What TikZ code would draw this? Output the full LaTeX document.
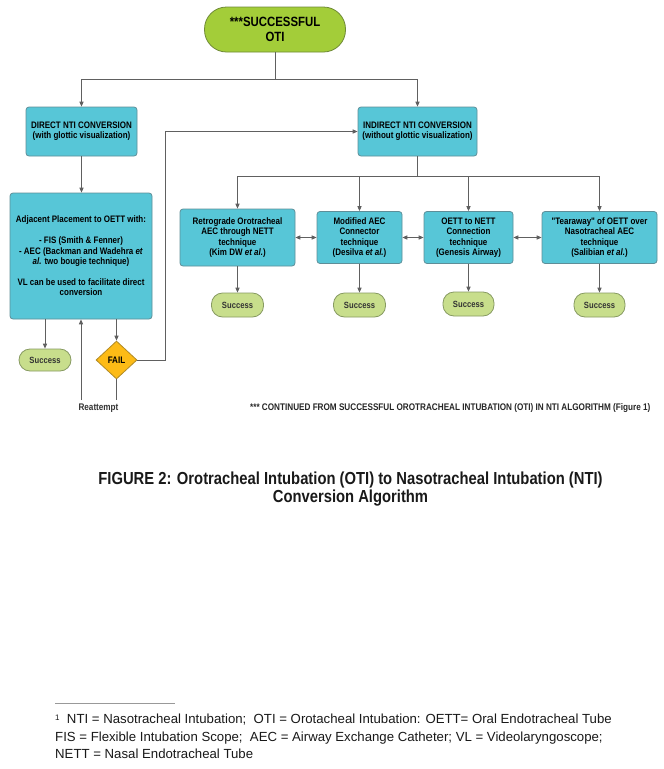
\documentclass[tikz,border=0pt]{standalone}
\usepackage{fontspec}
\setmainfont{Liberation Sans}
\newfontfamily\nb[FakeStretch=0.85]{Liberation Sans}
\usetikzlibrary{arrows.meta,shapes.geometric}
\definecolor{cyanbox}{HTML}{57C6D7}
\definecolor{cyanedge}{HTML}{5E8E98}
\definecolor{topgreen}{HTML}{A3CD39}
\definecolor{topedge}{HTML}{6F8A36}
\definecolor{pill}{HTML}{C8DE8C}
\definecolor{pilledge}{HTML}{879A62}
\definecolor{failfill}{HTML}{FDBB16}
\definecolor{failedge}{HTML}{B08A25}
\definecolor{wire}{HTML}{606060}
\tikzset{
  x=1pt,y=-1pt,
  boxstyle/.style={draw=cyanedge,line width=0.8pt,fill=cyanbox,rounded corners=3pt,
    align=center,inner sep=0pt,font=\nb\bfseries\fontsize{9.4}{10.4}\selectfont},
  pillstyle/.style={draw=pilledge,line width=0.8pt,fill=pill,rounded corners=11pt,
    align=center,inner sep=0pt,text=black!80,font=\nb\bfseries\fontsize{9}{10}\selectfont},
  wirestyle/.style={draw=wire,line width=0.9pt},
  arr/.style={wirestyle,-{Triangle[length=5pt,width=4.2pt]}},
  darr/.style={wirestyle,{Triangle[length=5pt,width=4.2pt]}-{Triangle[length=5pt,width=4.2pt]}},
}
\begin{document}
\begin{tikzpicture}
\useasboundingbox[fill=white] (0,0) rectangle (664,769);
% nodes
\node[draw=topedge,line width=0.8pt,fill=topgreen,rounded corners=22pt,align=center,inner sep=0pt,
  minimum width=141pt,minimum height=45pt,font=\nb\bfseries\fontsize{13.4}{14.5}\selectfont]
  (top) at (275,29.5) {***SUCCESSFUL\\OTI};
\node[boxstyle,minimum width=111pt,minimum height=49pt] (direct) at (81.5,131.5)
  {DIRECT NTI CONVERSION\\(with glottic visualization)};
\node[boxstyle,minimum width=119pt,minimum height=49pt] (indirect) at (417.5,131.5)
  {INDIRECT NTI CONVERSION\\(without glottic visualization)};
\node[boxstyle,minimum width=142pt,minimum height=126pt] (big) at (81,256)
  {Adjacent Placement to OETT with:\\[10.4pt]- FIS (Smith \& Fenner)\\- AEC (Backman and Wadehra \textit{et}\\\textit{al.} two bougie technique)\\[10.4pt]VL can be used to facilitate direct\\conversion};
\node[boxstyle,minimum width=115pt,minimum height=57pt] (retro) at (237.5,237.5)
  {Retrograde Orotracheal\\AEC through NETT\\technique\\(Kim DW \textit{et al.})};
\node[boxstyle,minimum width=85pt,minimum height=52pt] (modif) at (359.5,237.5)
  {Modified AEC\\Connector\\technique\\(Desilva \textit{et al.})};
\node[boxstyle,minimum width=89pt,minimum height=52pt] (oett) at (468.5,237.5)
  {OETT to NETT\\Connection\\technique\\(Genesis Airway)};
\node[boxstyle,minimum width=115pt,minimum height=52pt] (tear) at (599.5,237.5)
  {"Tearaway" of OETT over\\Nasotracheal AEC\\technique\\(Salibian \textit{et al.})};
\node[pillstyle,minimum width=52pt,minimum height=24pt] (s1) at (237.5,305) {Success};
\node[pillstyle,minimum width=52pt,minimum height=24pt] (s2) at (359.5,305) {Success};
\node[pillstyle,minimum width=51pt,minimum height=24pt] (s3) at (468.5,304) {Success};
\node[pillstyle,minimum width=51pt,minimum height=24pt] (s4) at (599.5,305) {Success};
\node[pillstyle,minimum width=52pt,minimum height=22pt] (sL) at (45,360) {Success};
\node[diamond,draw=failedge,line width=0.8pt,fill=failfill,inner sep=0pt,
  minimum width=41pt,minimum height=38pt,font=\nb\bfseries\fontsize{9.5}{10}\selectfont] (fail) at (116.5,360) {FAIL};
\node[font=\nb\bfseries\fontsize{9.6}{10}\selectfont,text=black!80] (reat) at (98.5,408) {Reattempt};
\node[anchor=west,inner sep=0pt,font=\nb\bfseries\fontsize{9.6}{10}\selectfont,text=black!85] (note) at (250,408)
  {*** CONTINUED FROM SUCCESSFUL OROTRACHEAL INTUBATION (OTI) IN NTI ALGORITHM (Figure 1)};
\node[align=center,inner sep=0pt,font=\nb\bfseries\fontsize{17.4}{18.5}\selectfont,text=black!90] (caption) at (350.5,489)
  {FIGURE 2: Orotracheal Intubation (OTI) to Nasotracheal Intubation (NTI)\\Conversion Algorithm};
\coordinate (fl) at (55,703);
\coordinate (fr) at (175,703);
\node[anchor=north west,align=left,inner sep=0pt,font=\fontsize{13.2}{17.5}\selectfont,text=black!90] (foot) at (55,714)
  {\raisebox{0.45ex}{\fontsize{8}{8}\selectfont 1}\ \ NTI = Nasotracheal Intubation;\ \ OTI = Orotacheal Intubation: OETT= Oral Endotracheal Tube\\
   FIS = Flexible Intubation Scope;\ \ AEC = Airway Exchange Catheter; VL = Videolaryngoscope;\\
   NETT = Nasal Endotracheal Tube};
% connectors
\coordinate (j1) at (275,79.5);
\coordinate (j2) at (417.5,176);
\coordinate (k) at (165,131.5);
\coordinate (r1) at (81,400);
\coordinate (r2) at (116.5,400);
\draw[wirestyle] (top.south) -- (j1);
\draw[arr] (j1) -| (direct.north);
\draw[arr] (j1) -| (indirect.north);
\draw[arr] (direct.south) -- (big.north -| direct.south);
\draw[wirestyle] (indirect.south) -- (j2);
\draw[arr] (j2) -| (retro.north);
\draw[arr] (j2) -| (modif.north);
\draw[arr] (j2) -| (oett.north);
\draw[arr] (j2) -| (tear.north);
\draw[darr] (retro.east) -- (modif.west);
\draw[darr] (modif.east) -- (oett.west);
\draw[darr] (oett.east) -- (tear.west);
\draw[arr] (retro.south) -- (s1.north);
\draw[arr] (modif.south) -- (s2.north);
\draw[arr] (oett.south) -- (s3.north);
\draw[arr] (tear.south) -- (s4.north);
\draw[arr] (big.south -| sL.north) -- (sL.north);
\draw[arr] (big.south -| fail.north) -- (fail.north);
\draw[wirestyle] (fail.south) -- (r2);
\draw[arr] (r1) -- (r1 |- big.south);
\draw[arr] (fail.east) -| (k) -- (indirect.west);
\draw[draw=black!40,line width=0.9pt] (fl) -- (fr);
\end{tikzpicture}
\end{document}
